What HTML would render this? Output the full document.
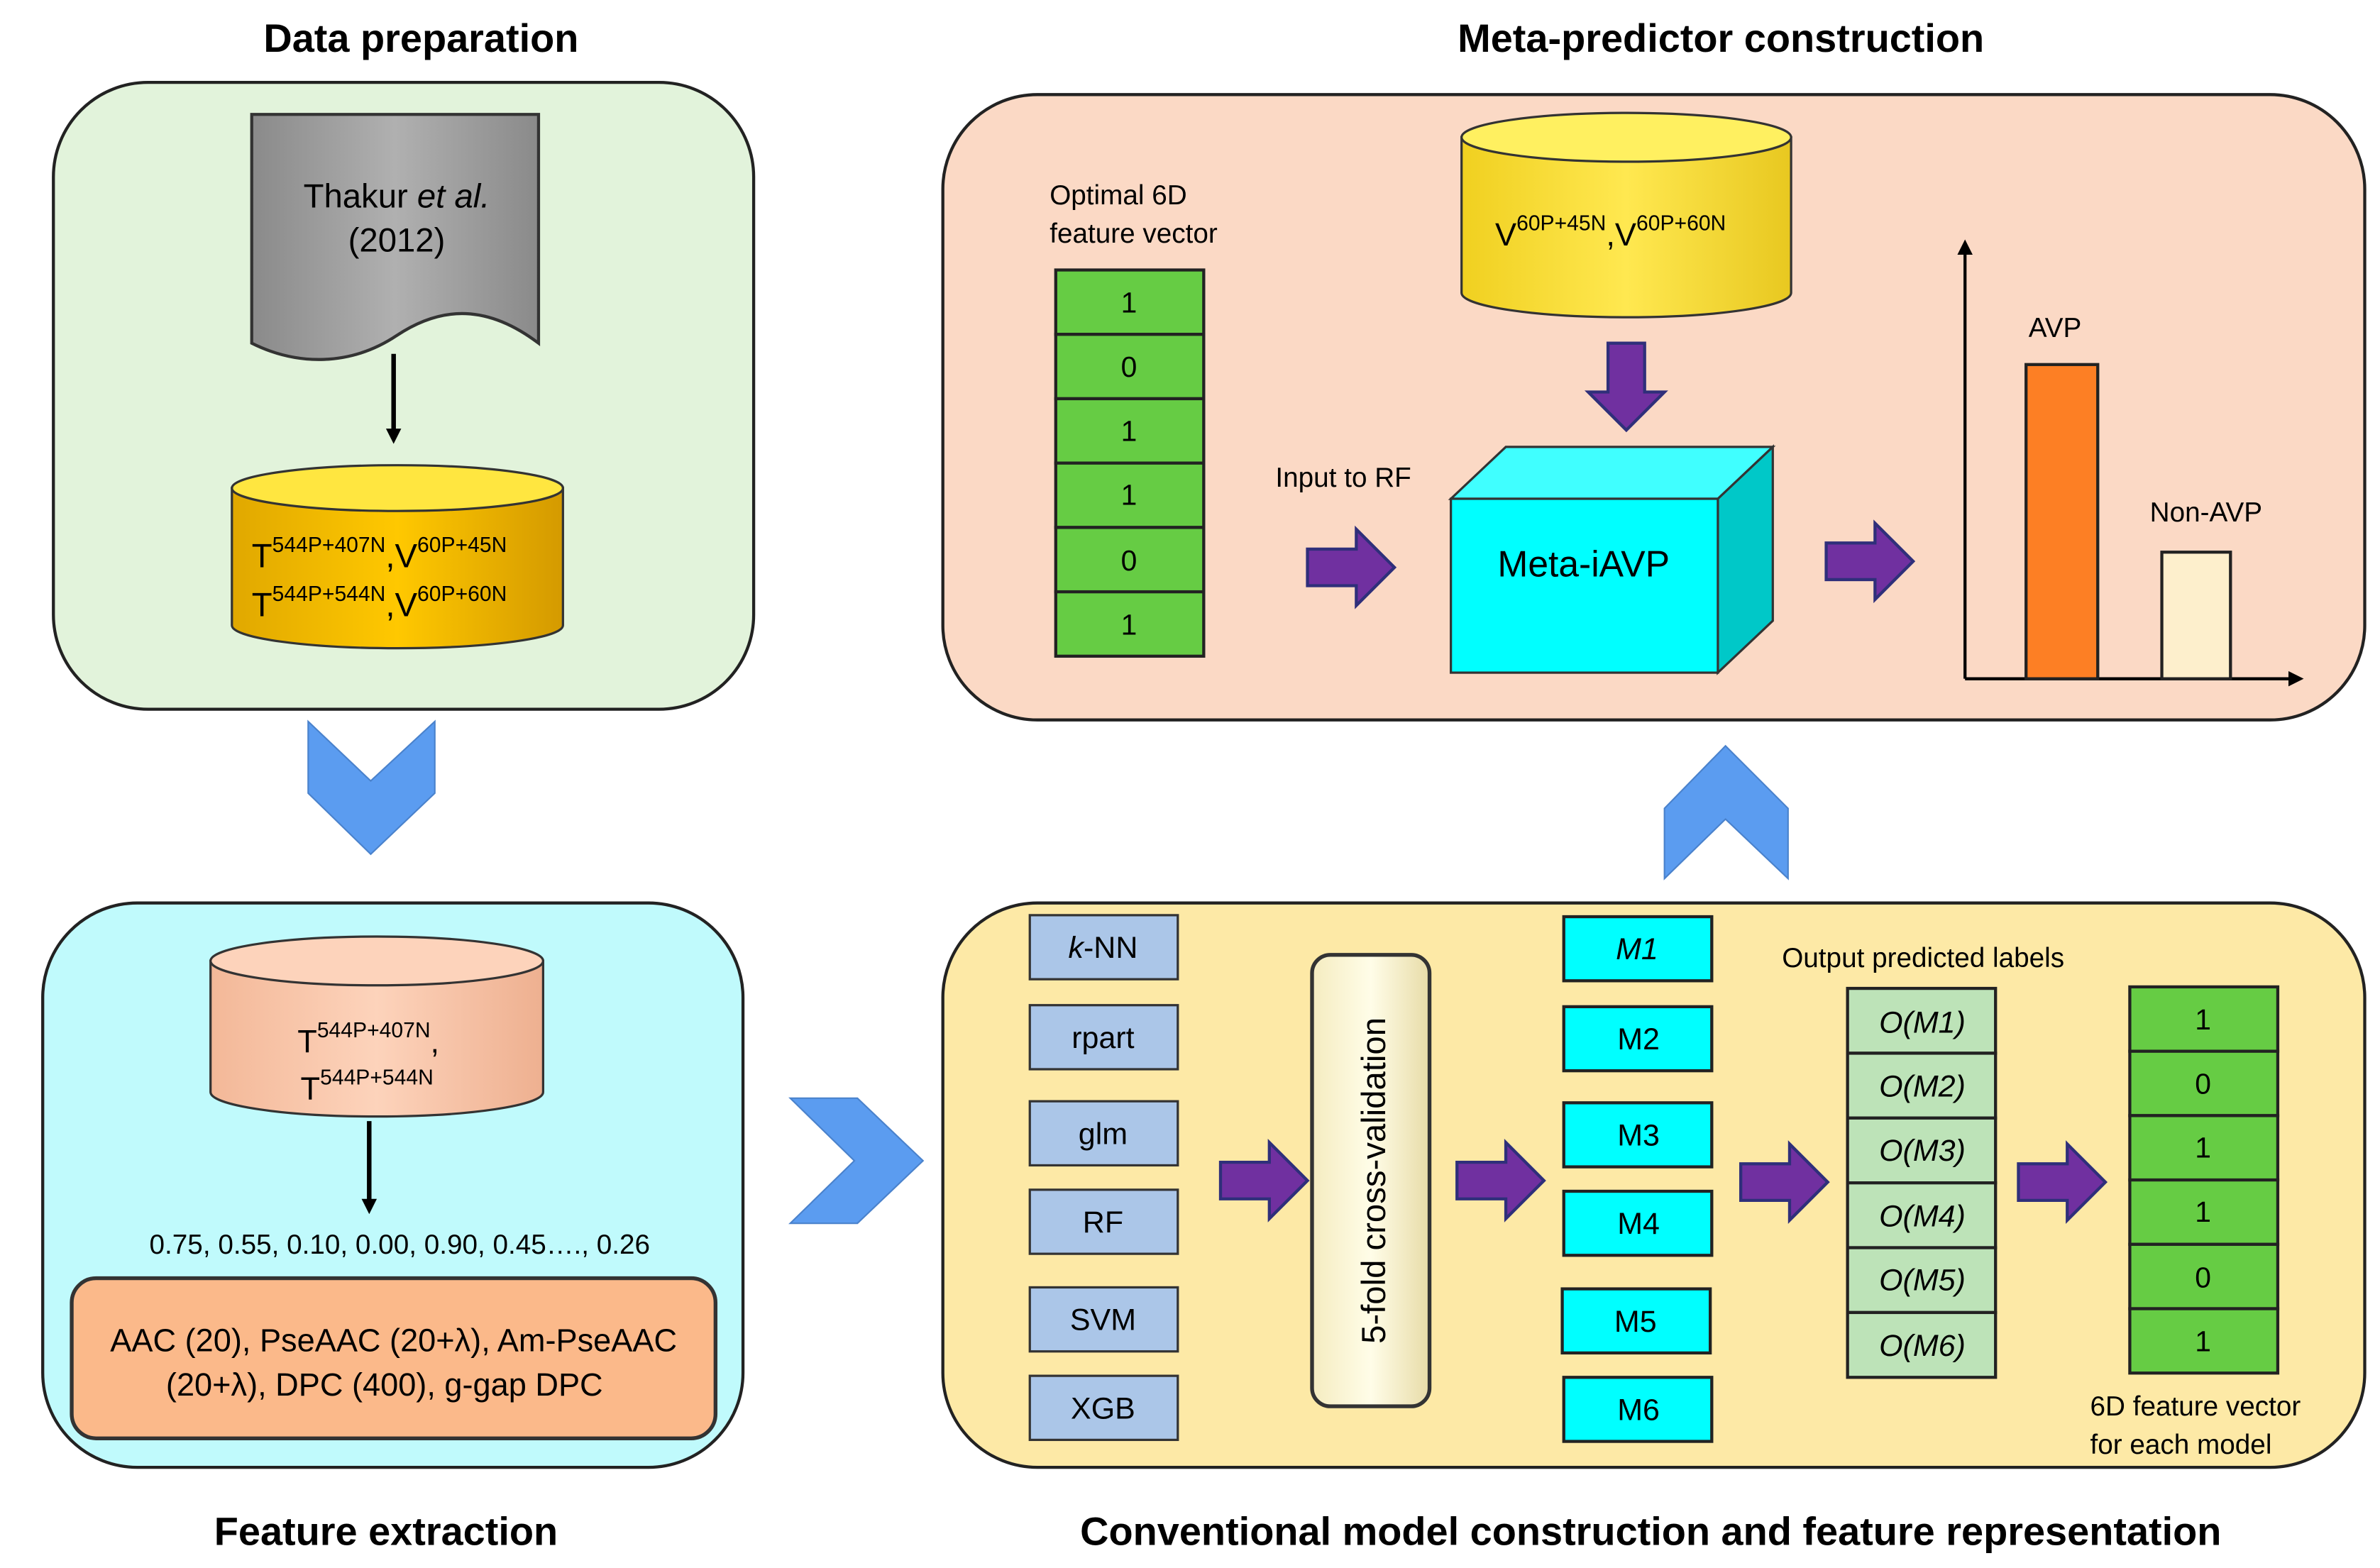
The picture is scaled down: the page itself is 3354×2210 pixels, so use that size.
<!DOCTYPE html>
<html><head><meta charset="utf-8"><style>
html,body{margin:0;padding:0;background:#fff;}
svg{display:block;}
text{font-family:"Liberation Sans",sans-serif;fill:#000;}
.b{font-weight:bold;font-size:26px;}
</style></head><body>
<svg width="3354" height="2210" viewBox="0 0 1560 1028" preserveAspectRatio="none" xmlns="http://www.w3.org/2000/svg">
<defs>
<linearGradient id="gy" x1="0" y1="0" x2="1" y2="0"><stop offset="0" stop-color="#e0a800"/><stop offset="0.5" stop-color="#ffc800"/><stop offset="1" stop-color="#d49a00"/></linearGradient>
<linearGradient id="gy2" x1="0" y1="0" x2="1" y2="0"><stop offset="0" stop-color="#f0d020"/><stop offset="0.5" stop-color="#ffe850"/><stop offset="1" stop-color="#e8c820"/></linearGradient>
<linearGradient id="gp" x1="0" y1="0" x2="1" y2="0"><stop offset="0" stop-color="#f3b898"/><stop offset="0.5" stop-color="#fdd3bb"/><stop offset="1" stop-color="#eeb090"/></linearGradient>
<linearGradient id="gg" x1="0" y1="0" x2="1" y2="0"><stop offset="0" stop-color="#8a8a8a"/><stop offset="0.5" stop-color="#b0b0b0"/><stop offset="1" stop-color="#8a8a8a"/></linearGradient>
<linearGradient id="gc" x1="0" y1="0" x2="1" y2="0"><stop offset="0" stop-color="#f5ecc0"/><stop offset="0.5" stop-color="#fffde8"/><stop offset="1" stop-color="#e8dca8"/></linearGradient>
<marker id="ah" markerWidth="10" markerHeight="10" refX="5" refY="5" orient="auto" markerUnits="userSpaceOnUse"><path d="M0,0 L10,5 L0,10 z" fill="#000"/></marker>
<g id="pa"><path d="M0,13 L32,13 L32,0 L57,25 L32,50 L32,37 L0,37 z" fill="#7030a0" stroke="#2f2f7a" stroke-width="2"/></g>
</defs>

<!-- Titles -->
<text class="b" x="276" y="34" text-anchor="middle">Data preparation</text>
<text class="b" x="1128" y="34" text-anchor="middle">Meta-predictor construction</text>
<text class="b" x="253" y="1013" text-anchor="middle">Feature extraction</text>
<text class="b" x="1082" y="1013" text-anchor="middle">Conventional model construction and feature representation</text>

<!-- Data preparation panel -->
<rect x="35" y="54" width="459" height="411" rx="62" fill="#e2f3db" stroke="#222" stroke-width="2"/>
<path d="M165,75 L353,75 L353,225 C320,200 290,200 260,220 C230,240 195,240 165,225 z" fill="url(#gg)" stroke="#333" stroke-width="2"/>
<text x="260" y="136" font-size="22" text-anchor="middle">Thakur <tspan font-style="italic">et al.</tspan></text>
<text x="260" y="165" font-size="22" text-anchor="middle">(2012)</text>
<line x1="258" y1="232" x2="258" y2="286" stroke="#000" stroke-width="3" marker-end="url(#ah)"/>
<path d="M152,320 L152,410 A108.5,15 0 0 0 369,410 L369,320 z" fill="url(#gy)" stroke="#333" stroke-width="1.5"/>
<ellipse cx="260.5" cy="320" rx="108.5" ry="15" fill="#ffe640" stroke="#333" stroke-width="1.5"/>
<text x="165" y="372" font-size="22">T<tspan font-size="14" dy="-10">544P+407N</tspan><tspan dy="10">,V</tspan><tspan font-size="14" dy="-10">60P+45N</tspan></text>
<text x="165" y="404" font-size="22">T<tspan font-size="14" dy="-10">544P+544N</tspan><tspan dy="10">,V</tspan><tspan font-size="14" dy="-10">60P+60N</tspan></text>

<!-- blue chevrons -->
<polygon points="202,473 243,512 285,473 285,520 243,560 202,520" fill="#5b9cf0" stroke="#4a82cc" stroke-width="1"/>
<polygon points="518,720 562,720 605,761 562,802 518,802 560,761" fill="#5b9cf0" stroke="#4a82cc" stroke-width="1"/>
<polygon points="1091,530 1131,489 1172,530 1172,576 1131,537 1091,576" fill="#5b9cf0" stroke="#4a82cc" stroke-width="1"/>

<!-- Feature extraction panel -->
<rect x="28" y="592" width="459" height="370" rx="62" fill="#c0fafc" stroke="#222" stroke-width="2"/>
<path d="M138,630 L138,716 A109,16 0 0 0 356,716 L356,630 z" fill="url(#gp)" stroke="#333" stroke-width="1.5"/>
<ellipse cx="247" cy="630" rx="109" ry="16" fill="#fdd3bb" stroke="#333" stroke-width="1.5"/>
<text x="195" y="690" font-size="21">T<tspan font-size="14" dy="-10">544P+407N</tspan><tspan dy="10">,</tspan></text>
<text x="197" y="721" font-size="21">T<tspan font-size="14" dy="-10">544P+544N</tspan></text>
<line x1="242" y1="735" x2="242" y2="791" stroke="#000" stroke-width="3" marker-end="url(#ah)"/>
<text x="262" y="822" font-size="18" text-anchor="middle">0.75, 0.55, 0.10, 0.00, 0.90, 0.45…., 0.26</text>
<rect x="47" y="838" width="422" height="105" rx="16" fill="#fbb98a" stroke="#333" stroke-width="2.5"/>
<text x="258" y="886" font-size="21" text-anchor="middle">AAC (20), PseAAC (20+λ), Am-PseAAC</text>
<text x="252" y="915" font-size="21" text-anchor="middle">(20+λ), DPC (400), g-gap DPC</text>

<!-- Meta-predictor panel -->
<rect x="618" y="62" width="932" height="410" rx="62" fill="#fbd9c5" stroke="#222" stroke-width="2"/>
<text x="688" y="134" font-size="18">Optimal 6D</text>
<text x="688" y="159" font-size="18">feature vector</text>
<g stroke="#222" stroke-width="2" fill="#66cc44">
<rect x="692" y="177" width="97" height="42.2"/><rect x="692" y="219.2" width="97" height="42.2"/><rect x="692" y="261.4" width="97" height="42.2"/><rect x="692" y="303.6" width="97" height="42.2"/><rect x="692" y="345.8" width="97" height="42.2"/><rect x="692" y="388" width="97" height="42.2"/>
</g>
<g font-size="19" text-anchor="middle">
<text x="740" y="205">1</text><text x="740" y="247">0</text><text x="740" y="289">1</text><text x="740" y="331">1</text><text x="740" y="374">0</text><text x="740" y="416">1</text>
</g>
<text x="836" y="319" font-size="18">Input to RF</text>
<use href="#pa" x="857" y="347"/>
<path d="M958,90 L958,192 A108,16 0 0 0 1174,192 L1174,90 z" fill="url(#gy2)" stroke="#333" stroke-width="1.5"/>
<ellipse cx="1066" cy="90" rx="108" ry="16" fill="#fff060" stroke="#333" stroke-width="1.5"/>
<text x="980" y="161" font-size="21">V<tspan font-size="14" dy="-10">60P+45N</tspan><tspan dy="10">,V</tspan><tspan font-size="14" dy="-10">60P+60N</tspan></text>
<use href="#pa" transform="translate(1091,225) rotate(90)"/>
<polygon points="951,327 987,293 1162,293 1126,327" fill="#40ffff" stroke="#333" stroke-width="1.5"/>
<polygon points="1126,327 1162,293 1162,407 1126,441" fill="#00c8c8" stroke="#333" stroke-width="1.5"/>
<rect x="951" y="327" width="175" height="114" fill="#00ffff" stroke="#333" stroke-width="1.5"/>
<text x="1038" y="378" font-size="24" text-anchor="middle">Meta-iAVP</text>
<use href="#pa" x="1197" y="343"/>
<line x1="1288" y1="445" x2="1288" y2="162" stroke="#000" stroke-width="2" marker-end="url(#ah)"/>
<line x1="1288" y1="445" x2="1505" y2="445" stroke="#000" stroke-width="2" marker-end="url(#ah)"/>
<rect x="1328" y="239" width="47" height="206" fill="#fd7f24" stroke="#222" stroke-width="2"/>
<rect x="1417" y="362" width="45" height="83" fill="#fdefcc" stroke="#222" stroke-width="2"/>
<text x="1347" y="221" font-size="18" text-anchor="middle">AVP</text>
<text x="1446" y="342" font-size="18" text-anchor="middle">Non-AVP</text>

<!-- Conventional panel -->
<rect x="618" y="592" width="932" height="370" rx="62" fill="#fde9a6" stroke="#222" stroke-width="2"/>
<g stroke="#333" stroke-width="1.5" fill="#abc6e8">
<rect x="675" y="600" width="97" height="42"/><rect x="675" y="659" width="97" height="42"/><rect x="675" y="722" width="97" height="42"/><rect x="675" y="780" width="97" height="42"/><rect x="675" y="844" width="97" height="42"/><rect x="675" y="902" width="97" height="42"/>
</g>
<g font-size="20" text-anchor="middle">
<text x="723" y="628"><tspan font-style="italic">k</tspan>-NN</text><text x="723" y="687">rpart</text><text x="723" y="750">glm</text><text x="723" y="808">RF</text><text x="723" y="872">SVM</text><text x="723" y="930">XGB</text>
</g>
<use href="#pa" x="800" y="749"/>
<rect x="860" y="626" width="77" height="296" rx="12" fill="url(#gc)" stroke="#333" stroke-width="2.5"/>
<text transform="translate(908,774) rotate(-90)" font-size="22" text-anchor="middle">5-fold cross-validation</text>
<use href="#pa" x="955" y="749"/>
<g stroke="#222" stroke-width="2" fill="#00ffff">
<rect x="1025" y="601" width="97" height="42"/><rect x="1025" y="660" width="97" height="42"/><rect x="1025" y="723" width="97" height="42"/><rect x="1025" y="781" width="97" height="42"/><rect x="1024" y="845" width="97" height="42"/><rect x="1025" y="903" width="97" height="42"/>
</g>
<g font-size="20" text-anchor="middle">
<text x="1073" y="629" font-style="italic">M1</text><text x="1074" y="688">M2</text><text x="1074" y="751">M3</text><text x="1074" y="809">M4</text><text x="1072" y="873">M5</text><text x="1074" y="931">M6</text>
</g>
<text x="1168" y="634" font-size="18">Output predicted labels</text>
<use href="#pa" x="1141" y="750"/>
<g stroke="#222" stroke-width="2" fill="#bde3b8">
<rect x="1211" y="648" width="97" height="42.5"/><rect x="1211" y="690.5" width="97" height="42.5"/><rect x="1211" y="733" width="97" height="42.5"/><rect x="1211" y="775.5" width="97" height="42.5"/><rect x="1211" y="818" width="97" height="42.5"/><rect x="1211" y="860.5" width="97" height="42.5"/>
</g>
<g font-size="20" text-anchor="middle" font-style="italic">
<text x="1260" y="677">O(M1)</text><text x="1260" y="719">O(M2)</text><text x="1260" y="761">O(M3)</text><text x="1260" y="804">O(M4)</text><text x="1260" y="846">O(M5)</text><text x="1260" y="889">O(M6)</text>
</g>
<use href="#pa" x="1323" y="750"/>
<g stroke="#222" stroke-width="2" fill="#66cc44">
<rect x="1396" y="647" width="97" height="42.2"/><rect x="1396" y="689.2" width="97" height="42.2"/><rect x="1396" y="731.4" width="97" height="42.2"/><rect x="1396" y="773.6" width="97" height="42.2"/><rect x="1396" y="815.8" width="97" height="42.2"/><rect x="1396" y="858" width="97" height="42.2"/>
</g>
<g font-size="19" text-anchor="middle">
<text x="1444" y="675">1</text><text x="1444" y="717">0</text><text x="1444" y="759">1</text><text x="1444" y="801">1</text><text x="1444" y="844">0</text><text x="1444" y="886">1</text>
</g>
<text x="1370" y="928" font-size="18">6D feature vector</text>
<text x="1370" y="953" font-size="18">for each model</text>
</svg>
</body></html>
